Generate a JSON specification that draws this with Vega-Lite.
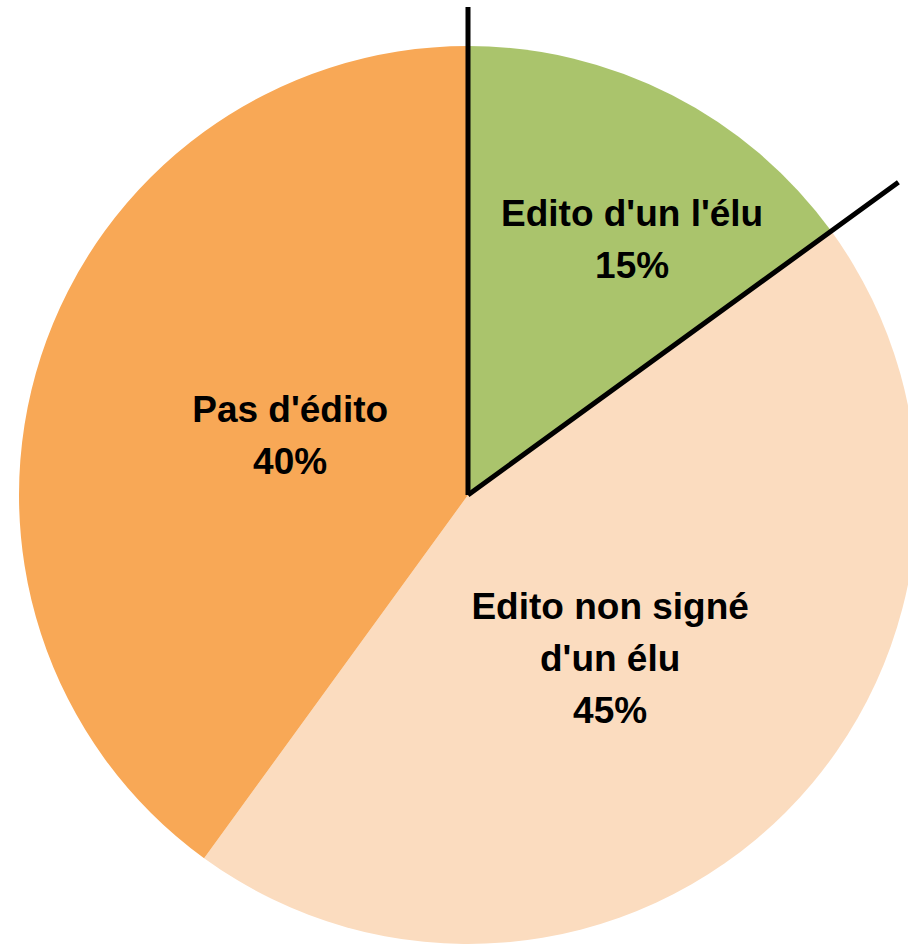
{
  "$schema": "https://vega.github.io/schema/vega-lite/6.json",
  "width": 880,
  "height": 902,
  "padding": {"left": 28, "top": 44, "right": 0, "bottom": 0},
  "autosize": "none",
  "background": "white",
  "view": {"stroke": null},
  "data": {
    "values": [
      {"category": "Edito d'un l'élu", "label": "Edito d'un l'élu\n15%", "value": 15, "ord": 1},
      {"category": "Edito non signé d'un élu", "label": "Edito non signé\nd'un élu\n45%", "value": 45, "ord": 2},
      {"category": "Pas d'édito", "label": "Pas d'édito\n40%", "value": 40, "ord": 3}
    ]
  },
  "layer": [
    {
      "mark": {"type": "arc", "outerRadius": 449, "stroke": null},
      "encoding": {
        "theta": {"field": "value", "type": "quantitative", "stack": true, "scale": {"domain": [0, 100]}},
        "order": {"field": "ord", "type": "quantitative"},
        "color": {
          "field": "category", "type": "nominal", "legend": null,
          "scale": {
            "domain": ["Edito d'un l'élu", "Edito non signé d'un élu", "Pas d'édito"],
            "range": ["#AAC46C", "#FBDCBF", "#F8A856"]
          }
        }
      }
    },
    {
      "transform": [
        {"stack": "value", "groupby": [], "sort": [{"field": "ord"}], "as": ["v0", "v1"]},
        {"filter": "datum.ord == 1"}
      ],
      "mark": {"type": "arc", "outerRadius": 488, "fill": null, "stroke": "black", "strokeWidth": 5},
      "encoding": {
        "theta": {"field": "v0", "type": "quantitative", "stack": null, "scale": {"domain": [0, 100]}},
        "theta2": {"field": "v0"}
      }
    },
    {
      "transform": [
        {"stack": "value", "groupby": [], "sort": [{"field": "ord"}], "as": ["v0", "v1"]},
        {"filter": "datum.ord == 1"}
      ],
      "mark": {"type": "arc", "outerRadius": 532, "fill": null, "stroke": "black", "strokeWidth": 5},
      "encoding": {
        "theta": {"field": "v1", "type": "quantitative", "stack": null, "scale": {"domain": [0, 100]}},
        "theta2": {"field": "v1"}
      }
    },
    {
      "mark": {"type": "text", "radius": 302, "dx": 27, "dy": -11, "font": "Liberation Sans", "fontWeight": "bold", "fontSize": 37, "lineHeight": 52, "lineBreak": "\n", "align": "center", "baseline": "middle", "color": "black"},
      "encoding": {
        "theta": {"field": "value", "type": "quantitative", "stack": true, "scale": {"domain": [0, 100]}},
        "order": {"field": "ord", "type": "quantitative"},
        "text": {"condition": {"test": "datum.ord == 1", "field": "label"}, "value": ""}
      }
    },
    {
      "mark": {"type": "text", "radius": 218, "dx": -12, "dy": -41, "font": "Liberation Sans", "fontWeight": "bold", "fontSize": 37, "lineHeight": 52, "lineBreak": "\n", "align": "center", "baseline": "middle", "color": "black"},
      "encoding": {
        "theta": {"field": "value", "type": "quantitative", "stack": true, "scale": {"domain": [0, 100]}},
        "order": {"field": "ord", "type": "quantitative"},
        "text": {"condition": {"test": "datum.ord == 2", "field": "label"}, "value": ""}
      }
    },
    {
      "mark": {"type": "text", "radius": 187, "dy": -26, "font": "Liberation Sans", "fontWeight": "bold", "fontSize": 37, "lineHeight": 52, "lineBreak": "\n", "align": "center", "baseline": "middle", "color": "black"},
      "encoding": {
        "theta": {"field": "value", "type": "quantitative", "stack": true, "scale": {"domain": [0, 100]}},
        "order": {"field": "ord", "type": "quantitative"},
        "text": {"condition": {"test": "datum.ord == 3", "field": "label"}, "value": ""}
      }
    }
  ]
}
